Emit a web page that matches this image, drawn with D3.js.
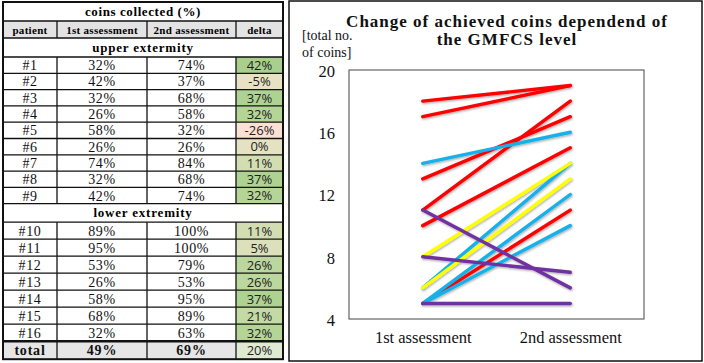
<!DOCTYPE html>
<html lang="en">

<head>
    <meta charset="UTF-8">
    <script src="https://cdn.jsdelivr.net/npm/d3@7"></script>
    <title>Coins collected</title>
    <style>
        body { margin: 0; background: #fff; }
    </style>
</head>

<body>
    <div id="chart"></div>
    <script>

        // ---- table data ----
        const patients = ["#1", "#2", "#3", "#4", "#5", "#6", "#7", "#8", "#9",
            "#10", "#11", "#12", "#13", "#14", "#15", "#16"];
        const firstPct = [32, 42, 32, 26, 58, 26, 74, 32, 42, 89, 95, 53, 26, 58, 68, 32];
        const secondPct = [74, 37, 68, 58, 32, 26, 84, 68, 74, 100, 100, 79, 53, 95, 89, 63];
        const deltaPct = [42, -5, 37, 32, -26, 0, 11, 37, 32, 11, 5, 26, 26, 37, 21, 32];
        const totals = ["total", 49, 69, 20];
        const headers = ["patient", "1st assessment", "2nd assessment", "delta"];
        const sections = ["upper extermity", "lower extremity"];

        // ---- slope chart data (total no. of coins) ----
        const assessments = ["1st assessment", "2nd assessment"];
        const lineColors = ["red", "red", "red", "red", "red", "red",
            "blue", "blue", "blue", "blue",
            "yellow", "yellow",
            "purple", "purple", "purple"];
        const coinsFirst = [18, 17, 11, 13, 10, 5, 14, 6, 5, 5, 8, 6, 11, 8, 5];
        const coinsSecond = [19, 19, 18, 17, 15, 11, 16, 14, 12, 10, 14, 13, 6, 7, 5];
        const yTicks = [4, 8, 12, 16, 20];

        const W = 704, H = 363;
        const svg = d3.select("#chart").append("svg")
            .attr("width", W).attr("height", H);

        const serif = "'Liberation Serif', 'Times New Roman', serif";

        // ================= TABLE =================
        const colX = [3, 57, 147, 236, 283];
        const colMid = colX.slice(0, 4).map((x, i) => (x + colX[i + 1]) / 2);

        // build row list
        const rows = [];
        rows.push({ type: "title", h: 19 });
        rows.push({ type: "header", h: 17 });
        rows.push({ type: "section", label: sections[0], h: 19 });
        patients.forEach((p, i) => {
            if (i === 9) rows.push({ type: "section", label: sections[1], h: 18.5 });
            rows.push({ type: "data", i: i, h: i < 9 ? 16.3 : 17 });
        });
        rows.push({ type: "total", h: 18 });
        let yy = 2;
        rows.forEach(r => { r.y = yy; yy += r.h; });

        const deltaColor = d3.scaleLinear()
            .domain([-26, 0, 20, 42])
            .range(["#fbe0d4", "#e4e2c2", "#c4daa4", "#a8d08c"]);

        const tbl = svg.append("g");

        rows.forEach(r => {
            const cy = r.y + r.h / 2;
            if (r.type === "header" || r.type === "total") {
                tbl.append("rect").attr("x", colX[0]).attr("y", r.y)
                    .attr("width", colX[3] - colX[0]).attr("height", r.h)
                    .attr("fill", r.type === "header" ? "#e3e3e3" : "#e6e6e6");
            }
            if (r.type === "header") {
                tbl.append("rect").attr("x", colX[3]).attr("y", r.y)
                    .attr("width", colX[4] - colX[3]).attr("height", r.h)
                    .attr("fill", "#e3e3e3");
            }
            if (r.type === "title") {
                tbl.append("text").attr("x", (colX[0] + colX[4]) / 2).attr("y", cy + 4.5)
                    .attr("text-anchor", "middle").attr("font-family", serif)
                    .attr("font-weight", "bold").attr("font-size", 13)
                    .attr("letter-spacing", 0.6)
                    .text("coins collected (%)");
            } else if (r.type === "section") {
                tbl.append("text").attr("x", (colX[0] + colX[4]) / 2).attr("y", cy + 4.5)
                    .attr("text-anchor", "middle").attr("font-family", serif)
                    .attr("font-weight", "bold").attr("font-size", 13)
                    .attr("letter-spacing", 0.8)
                    .text(r.label);
            } else if (r.type === "header") {
                headers.forEach((t, j) => {
                    tbl.append("text").attr("x", colMid[j]).attr("y", cy + 4)
                        .attr("text-anchor", "middle").attr("font-family", serif)
                        .attr("font-weight", "bold").attr("font-size", 11)
                        .attr("letter-spacing", 0.3)
                        .text(t);
                });
            } else {
                const isTot = r.type === "total";
                const vals = isTot
                    ? [totals[0], totals[1] + "%", totals[2] + "%"]
                    : [patients[r.i], firstPct[r.i] + "%", secondPct[r.i] + "%"];
                const d = isTot ? totals[3] : deltaPct[r.i];
                tbl.append("rect").attr("x", colX[3]).attr("y", r.y)
                    .attr("width", colX[4] - colX[3]).attr("height", r.h)
                    .attr("fill", isTot ? "#dfead2" : deltaColor(d));
                vals.forEach((t, j) => {
                    tbl.append("text").attr("x", colMid[j]).attr("y", cy + 5)
                        .attr("text-anchor", "middle").attr("font-family", serif)
                        .attr("font-weight", isTot ? "bold" : "normal")
                        .attr("font-size", 14)
                        .attr("letter-spacing", isTot ? 0.8 : 0.6)
                        .attr("fill", "#111")
                        .text(t);
                });
                tbl.append("text").attr("x", colMid[3]).attr("y", cy + 4.8)
                    .attr("text-anchor", "middle").attr("font-family", "'Open Sans', sans-serif")
                    .attr("font-size", 13).attr("fill", "#1e1e1e")
                    .text(d + "%");
            }
        });

        // grid lines
        const gridStroke = "#111";
        rows.forEach((r, k) => {
            if (k === 0) return;
            const thick = r.type === "total";
            tbl.append("line").attr("x1", colX[0]).attr("x2", colX[4])
                .attr("y1", r.y).attr("y2", r.y)
                .attr("stroke", gridStroke).attr("stroke-width", thick ? 2.5 : 1.3);
            if (r.type !== "section" && r.type !== "title") {
                colX.slice(1, 4).forEach(x => {
                    tbl.append("line").attr("x1", x).attr("x2", x)
                        .attr("y1", r.y).attr("y2", r.y + r.h)
                        .attr("stroke", gridStroke).attr("stroke-width", 1.3);
                });
            }
        });
        tbl.append("rect").attr("x", colX[0]).attr("y", 2)
            .attr("width", colX[4] - colX[0]).attr("height", yy - 2)
            .attr("fill", "none").attr("stroke", gridStroke).attr("stroke-width", 2);

        // ================= SLOPE CHART =================
        const frame = { x: 289, y: 1, w: 413, h: 360 };
        svg.append("rect").attr("x", frame.x).attr("y", frame.y)
            .attr("width", frame.w).attr("height", frame.h)
            .attr("fill", "#fff").attr("stroke", "#111").attr("stroke-width", 1.5);

        const plot = { left: 349, right: 644, top: 70, bottom: 319 };

        const x = d3.scalePoint()
            .domain(assessments)
            .range([plot.left, plot.right])
            .padding(0.5);
        const y = d3.scaleLinear()
            .domain([4, 20])
            .range([plot.bottom, plot.top]);

        const colorMap = { red: "#ff0000", blue: "#16b1ea", yellow: "#ffff00", purple: "#7030a0" };

        const defs = svg.append("defs");
        const flt = defs.append("filter").attr("id", "shadow")
            .attr("x", "-10%").attr("y", "-10%").attr("width", "120%").attr("height", "130%");
        flt.append("feDropShadow").attr("dx", 0.8).attr("dy", 1.2)
            .attr("stdDeviation", 0.8).attr("flood-color", "#000").attr("flood-opacity", 0.35);

        const series = coinsFirst.map((v, i) => ({
            color: lineColors[i],
            values: [v, coinsSecond[i]]
        }));
        const order = ["red", "blue", "yellow", "purple"];
        series.sort((a, b) => order.indexOf(a.color) - order.indexOf(b.color));

        const line = d3.line()
            .x((d, i) => x(assessments[i]))
            .y(d => y(d));

        svg.append("g").attr("filter", "url(#shadow)")
            .selectAll("path")
            .data(series)
            .join("path")
            .attr("d", d => line(d.values))
            .attr("fill", "none")
            .attr("stroke", d => colorMap[d.color])
            .attr("stroke-width", 3.4)
            .attr("stroke-linecap", "round");

        svg.append("rect")
            .attr("x", plot.left).attr("y", plot.top)
            .attr("width", plot.right - plot.left).attr("height", plot.bottom - plot.top)
            .attr("fill", "none").attr("stroke", "#444").attr("stroke-width", 1);

        // y tick labels
        svg.append("g")
            .attr("transform", `translate(${plot.left - 14},0)`)
            .call(d3.axisLeft(y).tickValues(yTicks).tickSize(0).tickPadding(0))
            .call(g => g.select(".domain").remove())
            .call(g => g.selectAll("text")
                .attr("font-family", serif).attr("font-size", 16.5)
                .attr("fill", "#111").attr("dy", "0.38em"));

        // x labels
        svg.append("g")
            .attr("transform", `translate(0,${plot.bottom})`)
            .call(d3.axisBottom(x).tickSize(0).tickPadding(0))
            .call(g => g.select(".domain").remove())
            .call(g => g.selectAll("text")
                .attr("font-family", serif).attr("font-size", 16.5)
                .attr("fill", "#111").attr("dy", null).attr("y", 24));

        // y label
        const yl = svg.append("text").attr("font-family", serif)
            .attr("font-size", 14).attr("fill", "#111");
        yl.append("tspan").attr("x", 302).attr("y", 40).text("[total no.");
        yl.append("tspan").attr("x", 302).attr("y", 57).text("of coins]");

        // title
        const tt = svg.append("text").attr("text-anchor", "middle")
            .attr("font-family", serif).attr("font-weight", "bold")
            .attr("font-size", 17).attr("letter-spacing", 1).attr("fill", "#111");
        tt.append("tspan").attr("x", 507).attr("y", 26.5).text("Change of achieved coins dependend of");
        tt.append("tspan").attr("x", 507).attr("y", 44.5).text("the GMFCS level");

    </script>
</body>

</html>
